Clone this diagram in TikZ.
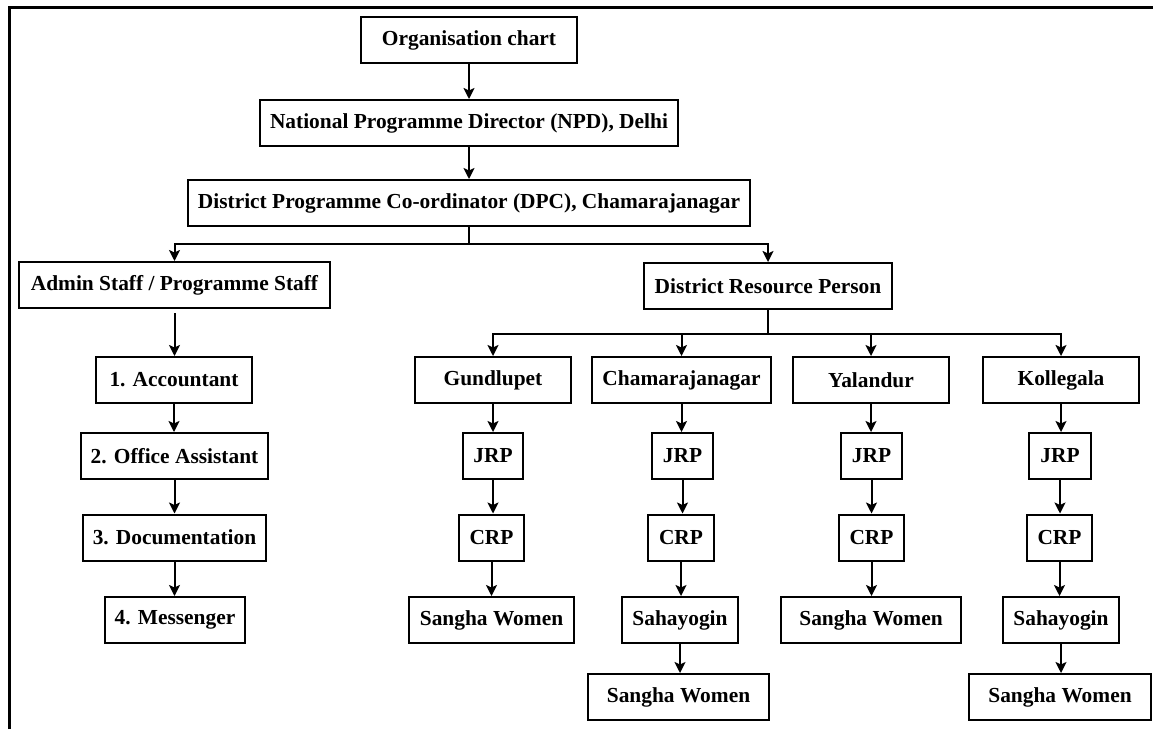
\documentclass[tikz,border=0pt]{standalone}
\usepackage{fontspec}
\setmainfont{Liberation Serif}
\usetikzlibrary{arrows.meta}
\begin{document}
\begin{tikzpicture}[x=1pt,y=-1pt,
  box/.style={draw, line width=2pt, inner sep=0pt, minimum height=46pt,
    font=\fontsize{21.4}{25}\selectfont\bfseries},
  arr/.style={line width=2pt, -{Stealth[length=11pt,width=11pt,inset=2.5pt]}},
  ln/.style={line width=2pt}]
\useasboundingbox (0,0) rectangle (1153,729);
\draw[line width=3pt] (9,729) -- (9,7) -- (1153,7);
% top chain
\node[box, minimum width=216pt] (org) at (469,40) {Organisation chart};
\node[box, minimum width=418pt] (npd) at (469,123) {National Programme Director (NPD), Delhi};
\node[box, minimum width=562pt] (dpc) at (469,203) {District Programme Co-ordinator (DPC), Chamarajanagar};
\node[box, minimum width=311pt] (admin) at (174.5,285) {Admin Staff / Programme Staff};
\node[box, minimum width=248pt] (drp) at (768,286) {District Resource Person};
% left column
\node[box, minimum width=156pt] (acc) at (174,380) {1. Accountant};
\node[box, minimum width=187pt] (off) at (174.5,456) {2. Office Assistant};
\node[box, minimum width=183pt] (doc) at (174.5,537.5) {3. Documentation};
\node[box, minimum width=140pt] (mes) at (175,620) {4. Messenger};
% branches
\node[box, minimum width=156pt] (gund) at (493,380) {Gundlupet};
\node[box, minimum width=179pt] (cham) at (681.5,380) {Chamarajanagar};
\node[box, minimum width=156pt] (yal) at (871,380) {Yalandur};
\node[box, minimum width=156pt] (koll) at (1061,380) {Kollegala};
\node[box, minimum width=60pt] (gj) at (493,456) {JRP};
\node[box, minimum width=61pt] (cj) at (682.5,456) {JRP};
\node[box, minimum width=61pt] (yj) at (871.5,456) {JRP};
\node[box, minimum width=62pt] (kj) at (1060,456) {JRP};
\node[box, minimum width=65pt] (gc) at (491.5,537.5) {CRP};
\node[box, minimum width=66pt] (cc) at (681,537.5) {CRP};
\node[box, minimum width=65pt] (yc) at (871.5,537.5) {CRP};
\node[box, minimum width=65pt] (kc) at (1059.5,537.5) {CRP};
\node[box, minimum width=165pt] (gs) at (491.5,620) {Sangha Women};
\node[box, minimum width=116pt] (cs) at (680,620) {Sahayogin};
\node[box, minimum width=180pt] (ys) at (871,620) {Sangha Women};
\node[box, minimum width=116pt] (ks) at (1061,620) {Sahayogin};
\node[box, minimum width=181pt] (css) at (678.5,697) {Sangha Women};
\node[box, minimum width=182pt] (kss) at (1060,697) {Sangha Women};
% connectors
\draw[arr] (org.south) -- (org.south |- npd.north);
\draw[arr] (npd.south) -- (npd.south |- dpc.north);
\draw[ln] (dpc.south) -- ++(0,17) coordinate (j1);
\draw[arr] (j1) -| (admin.north);
\draw[arr] (j1) -| (drp.north);
\draw[arr] ([yshift=-4pt]admin.south) -- (admin.south |- acc.north);
\draw[arr] (acc.south) -- (acc.south |- off.north);
\draw[arr] (off.south) -- (off.south |- doc.north);
\draw[arr] (doc.south) -- (doc.south |- mes.north);
\draw[ln] (drp.south) -- ++(0,24) coordinate (j2);
\draw[arr] (j2) -| (gund.north);
\draw[arr] (j2) -| (cham.north);
\draw[arr] (j2) -| (yal.north);
\draw[arr] (j2) -| (koll.north);
\foreach \a/\b in {gund/gj, gj/gc, gc/gs, cham/cj, cj/cc, cc/cs, cs/css,
                   yal/yj, yj/yc, yc/ys, koll/kj, kj/kc, kc/ks, ks/kss}
  \draw[arr] (\a.south) -- (\a.south |- \b.north);
\end{tikzpicture}
\end{document}
